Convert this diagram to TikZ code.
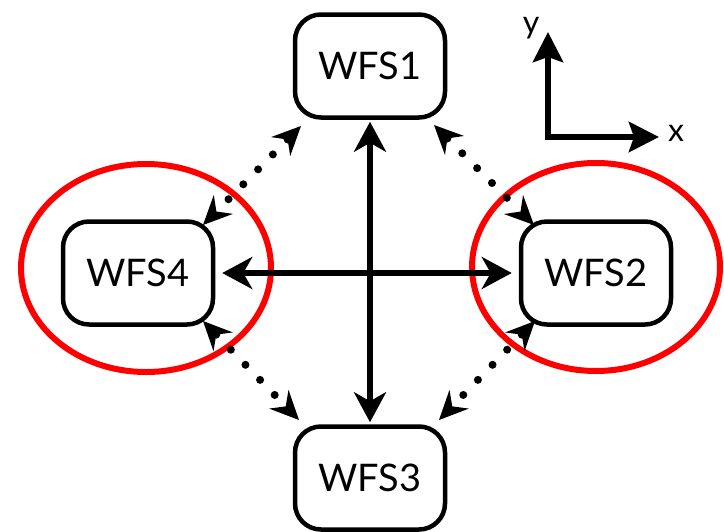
\documentclass[tikz,border=0pt]{standalone}
\usepackage{fontspec}
\setmainfont{Lato}
\usetikzlibrary{arrows.meta}
\begin{document}
\begin{tikzpicture}[x=1pt,y=-1pt,
  wfs/.style={draw=black,line width=4.5pt,rounded corners=26pt,minimum width=150pt,minimum height=103pt,inner sep=0pt,font=\fontsize{38}{40}\selectfont},
  solidarr/.style={line width=6pt,{Stealth[length=30pt,width=32pt,inset=9pt]}-{Stealth[length=30pt,width=32pt,inset=9pt]}},
  dotarr/.style={line width=8pt,line cap=round,dash pattern=on 0pt off 21pt,{Stealth[length=29pt,width=27pt,inset=10pt,line width=0pt]}-{Stealth[length=29pt,width=27pt,inset=10pt,line width=0pt]}},
  redring/.style={draw=red,line width=6pt},
  axis/.style={line width=6.5pt,-{Stealth[length=30pt,width=30pt,inset=5pt]}}]
\useasboundingbox (0,0) rectangle (724,531);
\node[wfs] (w1) at (370,66) {WFS1};
\node[wfs] (w2) at (596,273) {WFS2};
\node[wfs] (w3) at (370,478) {WFS3};
\node[wfs] (w4) at (138,273) {WFS4};
\draw[redring] (146,268) ellipse [x radius=125, y radius=104];
\draw[redring] (596,267) ellipse [x radius=124, y radius=104];
\draw[solidarr,shorten <=2pt,shorten >=2pt] (w1) -- (w3);
\draw[solidarr,shorten <=7pt,shorten >=7pt] (w4) -- (w2);
\coordinate (a1) at (301,126); \coordinate (a4) at (203,225);
\coordinate (b1) at (434,125); \coordinate (b2) at (534,225);
\coordinate (c4) at (203,321); \coordinate (c3) at (299,420);
\coordinate (d2) at (535,321); \coordinate (d3) at (439,420);
\draw[dotarr] (a1) -- (a4);
\draw[dotarr] (b1) -- (b2);
\draw[dotarr] (c4) -- (c3);
\draw[dotarr] (d2) -- (d3);
\coordinate (o) at (548,137);
\coordinate (ytip) at (548,32);
\coordinate (xtip) at (659,137);
\draw[axis] ([xshift=-3.25pt]o) -- (xtip);
\draw[axis] ([yshift=3.25pt]o) -- (ytip);
\node[font=\fontsize{32}{34}\selectfont] (ylab) at (531,28) {y};
\node[font=\fontsize{32}{34}\selectfont] (xlab) at (676,133) {x};
\end{tikzpicture}
\end{document}
